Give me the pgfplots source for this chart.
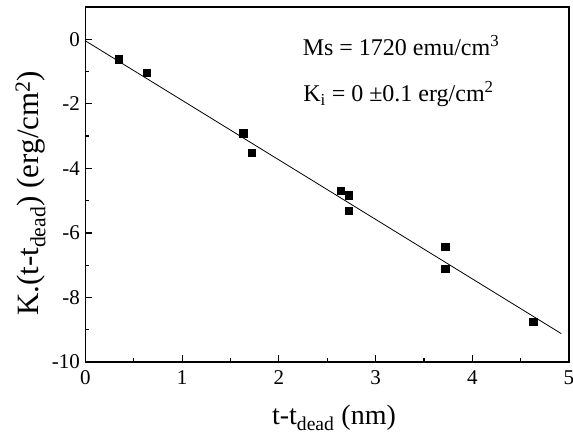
\documentclass[border=0pt]{standalone}
\usepackage{fontspec}
\setmainfont{Liberation Serif}
\usepackage{pgfplots}
\pgfplotsset{compat=1.18}
\begin{document}
\begin{tikzpicture}
\begin{axis}[
  scale only axis,
  width=483.5pt, height=355pt,
  xmin=0, xmax=5, ymin=-10, ymax=1,
  xtick={0,1,2,3,4,5}, ytick={-10,-8,-6,-4,-2,0},
  minor x tick num=1, minor y tick num=1,
  tick pos=left, tick align=inside,
  major tick length=7pt, minor tick length=4pt,
  axis line style={line width=1.4pt},
  every tick/.style={line width=1.2pt, black},
  /pgf/number format/assume math mode=true,
  ticklabel style={font=\fontsize{21}{24}\selectfont},
  xticklabel style={yshift=-5pt},
  yticklabel style={xshift=-2pt},
  xlabel={t-t\textsubscript{dead} (nm)},
  ylabel={K.(t-t\textsubscript{dead}) (erg/cm\textsuperscript{2})},
  xlabel style={font=\fontsize{28}{32}\selectfont, at={(axis description cs:0.514,-0.2)}, anchor=base, yshift=8pt},
  ylabel style={font=\fontsize{31}{34}\selectfont, at={(axis description cs:-0.145,0.475)}, anchor=north, inner sep=0pt},
  clip=false,
]
\addplot[black, line width=0.8pt] coordinates {(0,-0.05) (4.92,-9.12)};
\addplot[only marks, mark=square*, mark size=3.6pt, black] coordinates {
  (0.34,-0.62) (0.635,-1.03) (1.63,-2.91) (1.72,-3.52)
  (2.64,-4.70) (2.72,-4.83) (2.72,-5.30)
  (3.72,-6.43) (3.72,-7.11) (4.63,-8.75)
};
\node[anchor=base west, font=\fontsize{24}{26}\selectfont, inner sep=0pt] at (axis cs:2.245,-0.51) {Ms = 1720 emu/cm\textsuperscript{3}};
\node[anchor=base west, font=\fontsize{24}{26}\selectfont, inner sep=0pt] at (axis cs:2.25,-1.94) {K\textsubscript{i} = 0 ±0.1 erg/cm\textsuperscript{2}};
\coordinate (bl) at (axis description cs:-0.1768,-0.2);
\coordinate (tr) at (axis description cs:1.0083,1.0197);
\end{axis}
\pgfresetboundingbox
\path (bl) rectangle (tr);
\end{tikzpicture}
\end{document}
